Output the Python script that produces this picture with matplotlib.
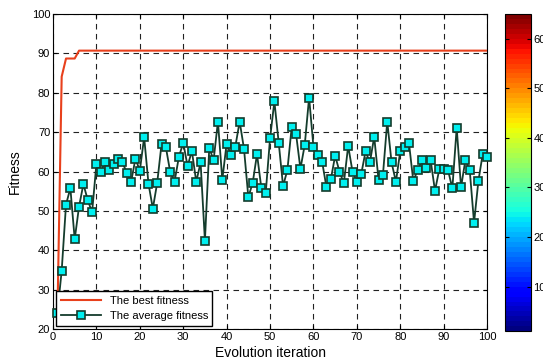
import numpy as np
import matplotlib
matplotlib.use("Agg")
import matplotlib.pyplot as plt
from matplotlib.cm import ScalarMappable
from matplotlib.colors import Normalize

plt.rcParams["font.family"] = ["Liberation Sans", "DejaVu Sans"]

iterations = np.arange(1, 101)

best_fitness = [22.3, 84.1, 88.7, 88.7, 88.7] + [90.7] * 95

avg_fitness = [
    24.0, 34.8, 51.6, 55.8, 42.8, 51.1, 56.8, 52.8, 49.6, 61.9,
    59.9, 62.4, 60.3, 61.9, 63.3, 62.3, 59.7, 57.4, 63.3, 60.2,
    68.7, 56.9, 50.6, 57.1, 66.9, 66.2, 59.9, 57.4, 63.7, 67.3,
    61.4, 65.2, 57.4, 62.3, 42.4, 66.0, 62.9, 72.7, 57.9, 67.1,
    64.3, 66.3, 72.7, 65.8, 53.5, 57.1, 64.4, 55.8, 54.5, 68.4,
    77.8, 67.3, 56.3, 60.4, 71.4, 69.5, 60.7, 66.8, 78.8, 66.3,
    64.3, 62.5, 56.0, 58.0, 64.0, 60.0, 57.0, 66.5, 60.0, 57.4,
    59.3, 65.1, 62.3, 68.8, 57.9, 59.0, 72.7, 62.3, 57.4, 65.2,
    66.2, 67.3, 57.6, 60.3, 62.9, 60.8, 62.9, 55.1, 60.6, 60.6,
    60.4, 55.7, 71.1, 56.0, 62.9, 60.4, 47.0, 57.6, 64.5, 63.7,
]

cbar_ticks = [10, 20, 30, 40, 50, 60]

fig = plt.figure(figsize=(5.43, 3.64), dpi=100)
ax = fig.add_axes([0.0976, 0.096, 0.7994, 0.8655])

ax.plot(iterations, best_fitness, color="#e8401c", lw=1.5, label="The best fitness", zorder=3)
ax.plot(iterations, avg_fitness, color="#143c2c", lw=1.3, marker="s", markersize=5.2,
        markerfacecolor="#00f0f0", markeredgecolor="#143c2c", markeredgewidth=1.2,
        label="The average fitness", zorder=4, clip_on=False)

ax.set_xlim(0, 100)
ax.set_ylim(20, 100)
ax.set_xticks(range(0, 101, 10))
ax.set_yticks(range(20, 101, 10))
ax.tick_params(direction="in", top=True, right=True, labelsize=8, length=3, pad=2)
ax.grid(True, color="#222222", linestyle=(0, (5, 4)), linewidth=0.8)
ax.set_axisbelow(True)
for s in ax.spines.values():
    s.set_linewidth(0.8)

ax.set_xlabel("Evolution iteration", fontsize=10, labelpad=3)
ax.set_ylabel("Fitness", fontsize=10, labelpad=7)

leg = ax.legend(loc="lower left", fontsize=8, fancybox=False, framealpha=1,
                edgecolor="black", borderaxespad=0.3, handlelength=3.6,
                borderpad=0.4, labelspacing=0.5)
leg.get_frame().set_linewidth(1.0)
leg.set_zorder(5)

cax = fig.add_axes([0.930, 0.090, 0.047, 0.8715])
sm = ScalarMappable(norm=Normalize(vmin=1, vmax=65), cmap=plt.get_cmap("jet", 64))
cb = fig.colorbar(sm, cax=cax, ticks=cbar_ticks)
cb.ax.tick_params(direction="in", labelsize=8, length=3, left=True, pad=2)
cb.outline.set_linewidth(0.8)

fig.savefig("out.png", dpi=100)
